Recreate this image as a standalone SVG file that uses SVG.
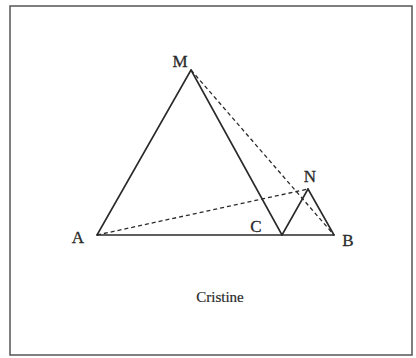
<svg xmlns="http://www.w3.org/2000/svg" width="416" height="358" viewBox="0 0 416 358">
<style>
.s{stroke:#2a2a2a;stroke-width:1.6;fill:none;stroke-linecap:round}
.d{stroke:#2a2a2a;stroke-width:1.3;fill:none;stroke-dasharray:4 3}
.t{font-family:"Liberation Serif",serif;fill:#2a2a2a;font-size:17px;text-anchor:middle;stroke:#2a2a2a;stroke-width:0.3}
</style>
<rect width="416" height="358" fill="#ffffff"/>
<rect x="10" y="6" width="402" height="349" fill="none" stroke="#555" stroke-width="1.5"/>
<g id="connectors">
<line class="s" x1="97" y1="235" x2="191" y2="70"/>
<line class="s" x1="191" y1="70" x2="282" y2="235"/>
<line class="s" x1="97" y1="235" x2="334" y2="235"/>
<line class="s" x1="282" y1="235" x2="308" y2="189"/>
<line class="s" x1="308" y1="189" x2="334" y2="235"/>
<line class="d" x1="191" y1="70" x2="334" y2="235"/>
<line class="d" x1="97" y1="235" x2="308" y2="189"/>
</g>
<g id="M"><text class="t" x="180" y="67">M</text></g>
<g id="N"><text class="t" x="310" y="182">N</text></g>
<g id="A"><text class="t" x="78" y="243">A</text></g>
<g id="C"><text class="t" x="256" y="232">C</text></g>
<g id="B"><text class="t" x="348" y="246">B</text></g>
<g id="caption"><text class="t" x="220" y="302" style="font-size:15px;stroke-width:0.2">Cristine</text></g>
</svg>
